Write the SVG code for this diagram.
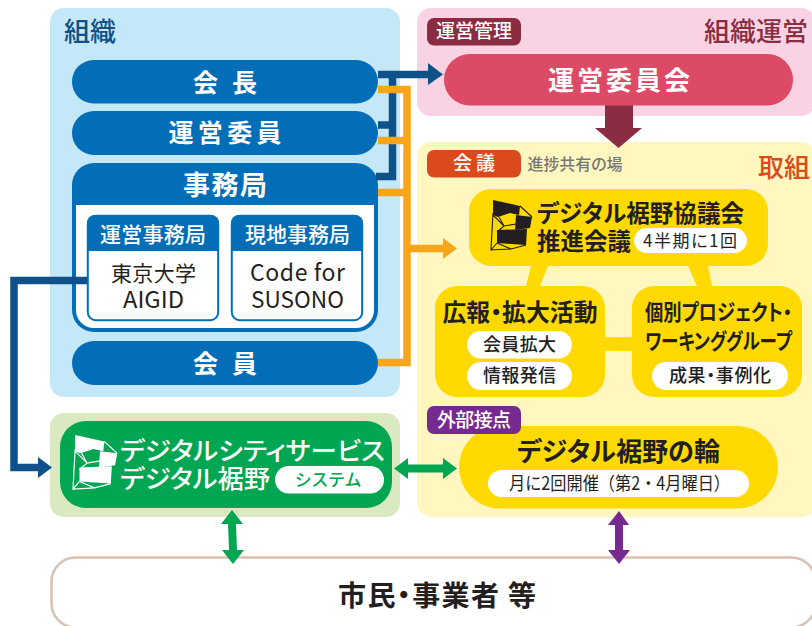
<svg xmlns="http://www.w3.org/2000/svg" width="812" height="626" viewBox="0 0 812 626">
<style>
text{font-family:"Noto Sans CJK JP","Noto Sans",sans-serif;text-anchor:middle;font-feature-settings:"palt"}
.w{fill:#fff}.k{fill:#231f20}
.b{font-weight:700}.m{font-weight:500}
.blue{fill:#036eb8}.navy{stroke:#0f5289}.org{stroke:#f9a51a}
.yel{fill:#ffd900}
.ln{fill:none;stroke-width:7.5}
.ttl{font-size:26px;font-weight:500;text-anchor:start}
</style>
<defs>
<g id="logo">
<path d="M2 0L29 6L28 15L19 13L7 17L2 15Z"/>
<path d="M25 15L41 17L39 28L24 30Z"/>
<path d="M6 30L36 29L35 45L6 43Z"/>
<path d="M2 13L0 50L20 49L35 45M29 6L41 17M8 17L13 26L25 24M13 26L6 32M0 50L6 43M2 15L13 26M6 43L20 49" fill="none" stroke="currentColor" stroke-width="1.100"/>
</g>
</defs>
<g id="panels">
<rect x="50" y="8" width="350" height="389" rx="14" fill="#c5e8f9"/>
<rect x="417" y="8" width="398" height="108" rx="14" fill="#f9d2e3"/>
<rect x="417" y="142" width="398" height="375" rx="14" fill="#fff7bf"/>
<rect x="50" y="413" width="350" height="104" rx="14" fill="#dbe9c1"/>
<text class="ttl" x="64" y="41" fill="#0f5289" textLength="52">組織</text>
<text class="ttl" x="704" y="41" fill="#8a2c42" textLength="104">組織運営</text>
<text class="ttl" x="758" y="177" fill="#db4a1c" textLength="52">取組</text>
</g>
<g id="citizens">
<rect x="51.500" y="557.500" width="764" height="70" rx="24" fill="#fff" stroke="#d8c2b2" stroke-width="2.500"/>
<text class="k b" x="437" y="606" font-size="28" textLength="198" lengthAdjust="spacing">市民・事業者 等</text>
</g>
<g id="node-jimukyoku">
<rect class="blue" x="72" y="163" width="306" height="169" rx="22"/>
<path class="w" d="M76 205H374V310A18 18 0 0 1 356 328H94A18 18 0 0 1 76 310Z"/>
<text class="w b" x="225" y="195" font-size="27" textLength="84" lengthAdjust="spacing">事務局</text>
</g>
<g id="connectors">
<path class="ln navy" d="M378 74.500H430M392.500 74.500V176.500H376M392.500 125H378"/>
<path d="M428 63L443 74.500L428 85Z" fill="#0f5289"/>
<path class="ln org" d="M378 89.500H407V362.500H378M407 140.500H378M407 192.500H378M407 248.500H445"/>
<path d="M443 238L457 248.500L443 259Z" fill="#f9a51a"/>
<path class="ln navy" d="M87 280.500H14V467.500H40"/>
<path d="M38 457L52 467.500L38 478Z" fill="#0f5289"/>
<path d="M605 105H633V128H642L618.500 148L595 128H605Z" fill="#8a2c42"/>
<path d="M394 468.500L408 458V464.500H443V458L457 468.500L443 479V472.500H408V479Z" fill="#00a651"/>
<path d="M232 510L243 524H236L237 550H244L233 564L222 550H229L228 524H221Z" fill="#00a651"/>
<path d="M619 511L629 525H623V550H630L619 564L608 550H615V525H608Z" fill="#762a8f"/>
</g>
<g id="node-kaicho">
<rect class="blue" x="72" y="60" width="306" height="43.500" rx="21.700"/>
<text class="w b" x="225" y="92" font-size="25" textLength="64" lengthAdjust="spacing">会 長</text>
</g>
<g id="node-uneiiin">
<rect class="blue" x="72" y="111" width="306" height="44" rx="22"/>
<text class="w b" x="225" y="142" font-size="25" textLength="113" lengthAdjust="spacing">運営委員</text>
</g>
<g id="node-unei-jimu">
<rect x="87.800" y="215.800" width="130.400" height="104.400" rx="8" fill="#fff" stroke="#036eb8" stroke-width="2"/>
<path class="blue" d="M87 251V223A8 8 0 0 1 95 215H211A8 8 0 0 1 219 223V251Z"/>
<text class="w m" x="153" y="242" font-size="21" textLength="106" lengthAdjust="spacing">運営事務局</text>
<text class="k" x="153.500" y="281" font-size="21" textLength="85" lengthAdjust="spacing">東京大学</text>
<text class="k" x="153.500" y="308" font-size="23" textLength="61" lengthAdjust="spacingAndGlyphs">AIGID</text>
</g>
<g id="node-genchi-jimu">
<rect x="231.800" y="215.800" width="130.400" height="104.400" rx="8" fill="#fff" stroke="#036eb8" stroke-width="2"/>
<path class="blue" d="M231 251V223A8 8 0 0 1 239 215H355A8 8 0 0 1 363 223V251Z"/>
<text class="w m" x="297.500" y="242" font-size="21" textLength="105" lengthAdjust="spacing">現地事務局</text>
<text class="k" x="297.500" y="281" font-size="23" textLength="95" lengthAdjust="spacing">Code for</text>
<text class="k" x="297.500" y="308" font-size="23" textLength="93" lengthAdjust="spacingAndGlyphs">SUSONO</text>
</g>
<g id="node-kaiin">
<rect class="blue" x="72" y="341" width="306" height="44" rx="22"/>
<text class="w b" x="225" y="373" font-size="25" textLength="64" lengthAdjust="spacing">会 員</text>
</g>
<g id="node-unei-kanri">
<rect x="427" y="18" width="94" height="27.500" rx="7" fill="#8a2c42"/>
<text class="w m" x="474" y="38" font-size="19" textLength="76" lengthAdjust="spacing">運営管理</text>
</g>
<g id="node-uneiiinkai">
<rect x="444" y="54" width="349" height="51.500" rx="25.700" fill="#dc4a66"/>
<text class="w b" x="619" y="90" font-size="26" textLength="142" lengthAdjust="spacing">運営委員会</text>
</g>
<g id="node-kaigi">
<rect x="427" y="150" width="94" height="27.500" rx="7" fill="#db4a1c"/>
<text class="w m" x="474" y="170" font-size="19" textLength="42" lengthAdjust="spacing">会 議</text>
<text x="575" y="170" font-size="16" fill="#777" font-weight="500" textLength="95" lengthAdjust="spacing">進捗共有の場</text>
</g>
<g id="links">
<path class="yel" d="M531 266H548L540 286H526ZM688 266H708L712 286H697ZM604 337H633V351H604Z"/>
</g>
<g id="node-suishin">
<rect class="yel" x="469" y="189" width="299" height="77" rx="22"/>
<use href="#logo" x="491" y="200" fill="#231f20" color="#231f20"/>
<text class="k b" x="640.500" y="222" font-size="23.500" textLength="207" lengthAdjust="spacingAndGlyphs">デジタル裾野協議会</text>
<text class="k b" x="584" y="250" font-size="23.500" textLength="94" lengthAdjust="spacingAndGlyphs">推進会議</text>
<rect x="634" y="228" width="113" height="25" rx="12.500" fill="#fff"/>
<text class="k" x="690" y="247" font-size="17" textLength="94" lengthAdjust="spacing">4半期に1回</text>
</g>
<g id="node-koho">
<rect class="yel" x="435" y="286" width="170" height="111" rx="22"/>
<text class="k b" x="520" y="321" font-size="24" textLength="155" lengthAdjust="spacingAndGlyphs">広報・拡大活動</text>
<rect x="467" y="331" width="105" height="27.500" rx="13.700" fill="#fff"/>
<text class="k m" x="519.500" y="351" font-size="18" textLength="73" lengthAdjust="spacing">会員拡大</text>
<rect x="467" y="362" width="105" height="28" rx="14" fill="#fff"/>
<text class="k m" x="519.500" y="382" font-size="18" textLength="73" lengthAdjust="spacing">情報発信</text>
</g>
<g id="node-kobetsu">
<rect class="yel" x="632" y="286" width="170" height="111" rx="22"/>
<text class="k b" x="718.500" y="320" font-size="22" textLength="147" lengthAdjust="spacingAndGlyphs">個別プロジェクト・</text>
<text class="k b" x="718.500" y="349" font-size="22" textLength="147" lengthAdjust="spacingAndGlyphs">ワーキンググループ</text>
<rect x="652" y="362" width="136" height="28" rx="14" fill="#fff"/>
<text class="k m" x="720" y="382" font-size="18" textLength="102" lengthAdjust="spacing">成果・事例化</text>
</g>
<g id="node-wa">
<rect class="yel" x="459" y="426" width="319" height="82.500" rx="41"/>
<text class="k b" x="618.500" y="461" font-size="26" textLength="203" lengthAdjust="spacingAndGlyphs">デジタル裾野の輪</text>
<rect x="488" y="470" width="261" height="27" rx="13.500" fill="#fff"/>
<text class="k" x="619.500" y="490" font-size="18" textLength="221" lengthAdjust="spacingAndGlyphs" style="font-feature-settings:normal">月に2回開催（第2・4月曜日）</text>
</g>
<g id="node-gaibu">
<rect x="427" y="406" width="94" height="28" rx="7" fill="#762a8f"/>
<text class="w m" x="474" y="427" font-size="19" textLength="74" lengthAdjust="spacing">外部接点</text>
</g>
<g id="node-dcs">
<rect x="60" y="421" width="332" height="87" rx="26" fill="#00a651"/>
<use href="#logo" transform="translate(73 435) scale(1.080)" fill="#fff" color="#fff"/>
<text class="w m" x="252.500" y="460" font-size="25" textLength="265" lengthAdjust="spacingAndGlyphs">デジタルシティサービス</text>
<text class="w m" x="195" y="488" font-size="25" textLength="150" lengthAdjust="spacingAndGlyphs">デジタル裾野</text>
<rect x="275" y="466" width="109" height="27.500" rx="13.700" fill="#fff"/>
<text x="328" y="486" font-size="17" font-weight="500" fill="#00a651" textLength="66" lengthAdjust="spacing">システム</text>
</g>
</svg>
